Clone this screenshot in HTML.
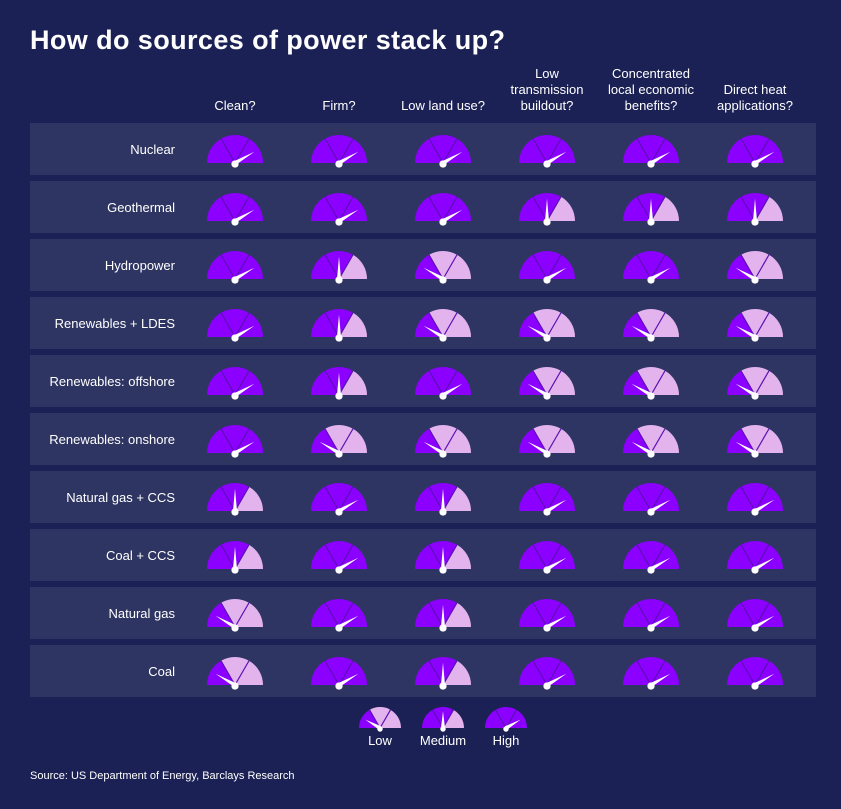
<!DOCTYPE html>
<html><head><meta charset="utf-8"><style>
html,body{margin:0;padding:0;background:#1b2155;}
svg{display:block;font-family:"Liberation Sans",sans-serif;}
</style></head><body>
<svg id="s" width="841" height="809" xmlns="http://www.w3.org/2000/svg">
<rect width="841" height="809" fill="#1b2155"/>
<text x="30" y="49" fill="#fff" font-size="27" font-weight="bold" textLength="475" lengthAdjust="spacing">How do sources of power stack up?</text>
<g fill="#fff" font-size="13" text-anchor="middle">
<text x="235" y="110">Clean?</text>
<text x="339" y="110">Firm?</text>
<text x="443" y="110">Low land use?</text>
<text x="547" y="78">Low</text><text x="547" y="94">transmission</text><text x="547" y="110">buildout?</text>
<text x="651" y="78">Concentrated</text><text x="651" y="94">local economic</text><text x="651" y="110">benefits?</text>
<text x="755" y="94">Direct heat</text><text x="755" y="110">applications?</text>
</g>
<g id="bands"></g>
<g fill="#fff" font-size="13" text-anchor="end">
<text x="175" y="154">Nuclear</text>
<text x="175" y="212">Geothermal</text>
<text x="175" y="270">Hydropower</text>
<text x="175" y="328">Renewables + LDES</text>
<text x="175" y="386">Renewables: offshore</text>
<text x="175" y="444">Renewables: onshore</text>
<text x="175" y="502">Natural gas + CCS</text>
<text x="175" y="560">Coal + CCS</text>
<text x="175" y="618">Natural gas</text>
<text x="175" y="676">Coal</text>
</g>
<g id="gauges"></g>
<g fill="#fff" font-size="13" text-anchor="middle">
<text x="380" y="745">Low</text><text x="443" y="745">Medium</text><text x="506" y="745">High</text>
</g>
<text x="30" y="779" fill="#fff" font-size="11">Source: US Department of Energy, Barclays Research</text>
</svg>
<script>
const NS="http://www.w3.org/2000/svg";
const data=["HHHHHH","HHHMMM","HMLHHL","HMLLLL","HMHLLL","HLLLLL","MHMHHH","MHMHHH","LHMHHH","LHMHHH"];
const cols=[235,339,443,547,651,755];
const bands=document.getElementById("bands"),g=document.getElementById("gauges");
function el(t,a,p){const e=document.createElementNS(NS,t);for(const k in a)e.setAttribute(k,a[k]);p.appendChild(e);return e;}
function pt(cx,cy,r,d){const a=d*Math.PI/180;return [cx+r*Math.cos(a),cy-r*Math.sin(a)];}
function gauge(cx,cy,r,lvl){
  const P="#8b00ff",Lt="#e3b3ee";
  const n=lvl=="L"?1:lvl=="M"?2:3;
  const secs=[[180,120],[120,60],[60,0]];
  secs.forEach((s,i)=>{const a=pt(cx,cy,r,s[0]),b=pt(cx,cy,r,s[1]);
    el("path",{d:`M${cx},${cy}L${a[0]},${a[1]}A${r},${r} 0 0 1 ${b[0]},${b[1]}Z`,fill:i<n?P:Lt},g);});
  [120,60].forEach(d=>{const a=pt(cx,cy,r,d);el("line",{x1:cx,y1:cy,x2:a[0],y2:a[1],stroke:"#5a10b0","stroke-width":1.2},g);});
  const ang=lvl=="L"?150:lvl=="M"?90:30;
  const t=pt(cx,cy,r*0.8,ang),p1=pt(cx,cy,2,ang+90),p2=pt(cx,cy,2,ang-90);
  el("path",{d:`M${p1[0]},${p1[1]}L${t[0]},${t[1]}L${p2[0]},${p2[1]}Z`,fill:"#fff"},g);
  el("circle",{cx:cx,cy:cy+1,r:r*0.13,fill:"#fff"},g);
}
data.forEach((row,i)=>{const y=123+58*i;
  el("rect",{x:30,y:y,width:786,height:52,fill:"#2e3562"},bands);
  [...row].forEach((l,j)=>gauge(cols[j],y+40,28,l));});
gauge(380,728,21,"L");gauge(443,728,21,"M");gauge(506,728,21,"H");
</script>
</body></html>
